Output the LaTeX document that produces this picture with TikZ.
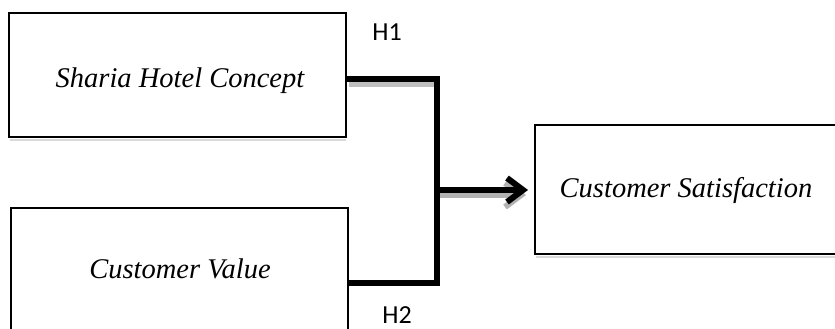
\documentclass[tikz,border=0pt]{standalone}
\usepackage{fontspec}
\setmainfont{Liberation Serif}
\newfontfamily\labfont{Carlito}
\usetikzlibrary{arrows.meta}
\begin{document}
\begin{tikzpicture}[x=1pt,y=-1pt,
  varbox/.style={draw=black, line width=1.5pt},
  vartext/.style={font=\fontsize{28.5}{32}\selectfont\itshape, anchor=base},
  hyplabel/.style={font=\fontsize{26}{28}\selectfont\labfont},
  conn/.style={line width=5.5pt, line cap=butt, line join=miter},
  tip/.style={-{Straight Barb[length=16pt,width=24pt,line width=6pt]}},
  shade/.style={line width=5.5pt, draw=black!25}]
\useasboundingbox (0,0) rectangle (835,329);
\begin{scope}
\clip (0,0) rectangle (835,329);
% shadows
\draw[black!15, line width=2pt] (10,140) -- (346,140);
\draw[black!15, line width=2pt] (536,257) -- (840,257);
% boxes
\draw[varbox] (9,13) rectangle (346,137);
\coordinate (b1e) at (346,79);
\draw[varbox] (11,208) rectangle (348,345);
\coordinate (b2e) at (348,283);
\draw[varbox] (535,125) rectangle (845,254);
\coordinate (b3w) at (528,190);
\node[vartext] (t1) at (180,88) {Sharia Hotel Concept};
\node[vartext] (t2) at (180,278) {Customer Value};
\node[vartext] (t3) at (686,197) {Customer Satisfaction};
% connectors shadow
\draw[shade] (349,84) -- (434,84);
% connectors
\coordinate (j1) at (437,79);
\coordinate (j2) at (437,283);
\coordinate (j3) at (437,190);
\draw[shade, tip, draw=black!30] (440,195) -- (526,195);
\draw[conn] (b1e) -- (j1) -- (j2) -- (b2e);
\draw[conn, tip] (j3) -- (b3w);
\node[hyplabel] (h1) at (387,32) {H1};
\node[hyplabel] (h2) at (397,315) {H2};
\end{scope}
\end{tikzpicture}
\end{document}
